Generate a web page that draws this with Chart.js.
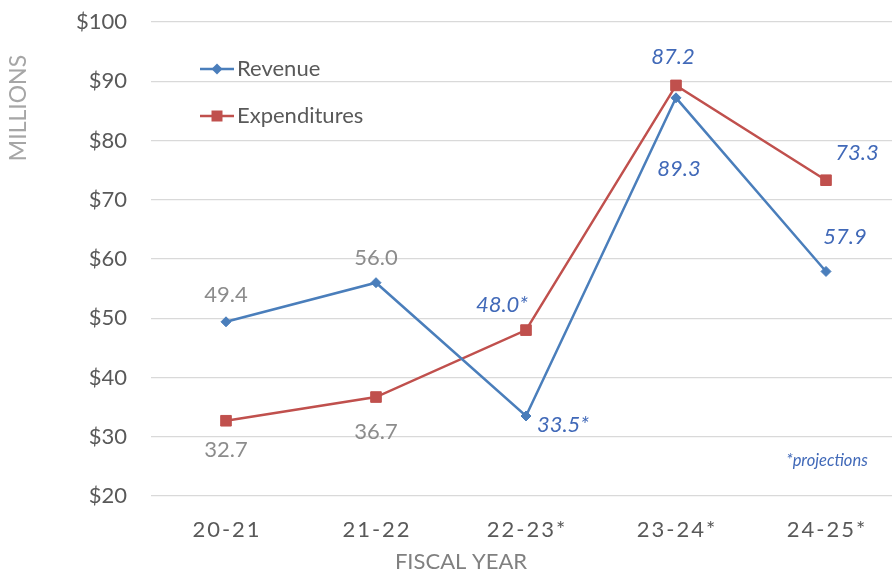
<!DOCTYPE html>
<html>
<head>
<meta charset="utf-8">
<script src="https://cdn.jsdelivr.net/npm/chart.js@4"></script>
<style>
  body { margin: 0; overflow: hidden; background: #fff; }
</style>
</head>
<body>
<canvas id="myChart" width="910" height="574"></canvas>
<script>
// data
const years = ['20-21', '21-22', '22-23*', '23-24*', '24-25*'];
const revenue = [49.4, 56.0, 33.5, 87.2, 57.9];
const expenditures = [32.7, 36.7, 48.0, 89.3, 73.3];
// label text as printed on the original (23-24 labels sit swapped there)
const revenueLabels = ['49.4', '56.0', '33.5*', '89.3', '57.9'];
const expenditureLabels = ['32.7', '36.7', '48.0*', '87.2', '73.3'];
const projected = [false, false, true, true, true];
const yMin = 20;
const yMax = 100;
const yStep = 10;

// styles
const FONT = 'Lato, "Liberation Sans", sans-serif';
const blue = '#4a7ebb';
const red = '#c0504d';
const labelBlue = '#4169b8';
const labelGray = '#8c8c8c';
const tickGray = '#595959';

// offsets of each value label from its point
const revenueOffsets = [[0, -27], [0, -25], [37, 9], [3, 71], [19, -35]];
const expenditureOffsets = [[0, 29], [0, 35], [-24, -25], [-3, -28], [31, -27]];

function drawMarker(ctx, style, x, y, color) {
    ctx.save();
    ctx.fillStyle = color;
    ctx.beginPath();
    if (style === 'rectRot') {
        ctx.moveTo(x - 5.5, y);
        ctx.lineTo(x, y - 5.5);
        ctx.lineTo(x + 5.5, y);
        ctx.lineTo(x, y + 5.5);
        ctx.closePath();
    } else {
        ctx.rect(x - 5.5, y - 5.5, 11, 11);
    }
    ctx.fill();
    ctx.restore();
}

const extras = {
    id: 'extras',
    afterDatasetsDraw(chart) {
        const ctx = chart.ctx;
        ctx.save();
        ctx.textAlign = 'center';
        ctx.textBaseline = 'middle';

        const sets = [
            [0, revenueLabels, revenueOffsets],
            [1, expenditureLabels, expenditureOffsets]
        ];
        sets.forEach(function (s) {
            const meta = chart.getDatasetMeta(s[0]);
            meta.data.forEach(function (pt, i) {
                const proj = projected[i];
                ctx.font = (proj ? 'italic ' : '') + '22px ' + FONT;
                ctx.fillStyle = proj ? labelBlue : labelGray;
                ctx.fillText(s[1][i], pt.x + s[2][i][0], pt.y + s[2][i][1]);
            });
        });

        // x tick labels with letter spacing
        const xs = chart.scales.x;
        ctx.font = '22px ' + FONT;
        ctx.fillStyle = tickGray;
        ctx.letterSpacing = '2px';
        years.forEach(function (y, i) {
            ctx.fillText(y, xs.getPixelForTick(i) + 1, 530);
        });
        ctx.letterSpacing = '0px';

        // axis titles
        ctx.font = '22px ' + FONT;
        ctx.fillStyle = '#808080';
        ctx.fillText('FISCAL YEAR', 461, 562);

        ctx.save();
        ctx.translate(19, 108);
        ctx.rotate(-Math.PI / 2);
        ctx.font = '23px ' + FONT;
        ctx.fillStyle = '#a6a6a6';
        ctx.fillText('MILLIONS', 0, 0);
        ctx.restore();

        // projections note
        ctx.font = 'italic 16.5px ' + FONT;
        ctx.fillStyle = labelBlue;
        ctx.fillText('*projections', 827, 461);

        // legend
        ctx.textAlign = 'left';
        chart.data.datasets.forEach(function (ds, i) {
            const y = 69 + i * 47;
            ctx.strokeStyle = ds.borderColor;
            ctx.lineWidth = 2.5;
            ctx.beginPath();
            ctx.moveTo(200, y);
            ctx.lineTo(234, y);
            ctx.stroke();
            drawMarker(ctx, ds.pointStyle, 217, y, ds.borderColor);
            ctx.font = '22px ' + FONT;
            ctx.fillStyle = tickGray;
            ctx.fillText(ds.label, 237, y);
        });
        ctx.restore();
    }
};

const ctx = document.getElementById('myChart');
const myChart = new Chart(ctx, {
    type: 'line',
    data: {
        labels: years,
        datasets: [{
            label: 'Revenue',
            data: revenue,
            borderColor: blue,
            backgroundColor: blue,
            borderWidth: 2.5,
            pointStyle: 'rectRot',
            pointRadius: 5,
            pointBorderWidth: 1,
            tension: 0
        }, {
            label: 'Expenditures',
            data: expenditures,
            borderColor: red,
            backgroundColor: red,
            borderWidth: 2.5,
            pointStyle: 'rect',
            pointRadius: 7.5,
            pointBorderWidth: 1,
            tension: 0
        }]
    },
    options: {
        responsive: false,
        animation: false,
        layout: {
            padding: { top: 22, right: 9, left: 0, bottom: 0 }
        },
        plugins: {
            legend: { display: false },
            tooltip: { enabled: false }
        },
        scales: {
            x: {
                offset: true,
                grid: { display: false },
                border: { display: false },
                ticks: { display: false },
                afterFit: function (scale) { scale.height = 78; }
            },
            y: {
                min: yMin,
                max: yMax,
                ticks: {
                    stepSize: yStep,
                    padding: 24,
                    color: tickGray,
                    font: { family: FONT, size: 22 },
                    callback: function (v) { return '$' + v; }
                },
                grid: { color: '#d9d9d9', lineWidth: 1.3, drawTicks: false },
                border: { display: false },
                afterFit: function (scale) {
                    scale.width = 151;
                    scale.paddingTop = 0;
                    scale.paddingBottom = 0;
                }
            }
        }
    },
    plugins: [extras]
});
</script>
</body>
</html>
